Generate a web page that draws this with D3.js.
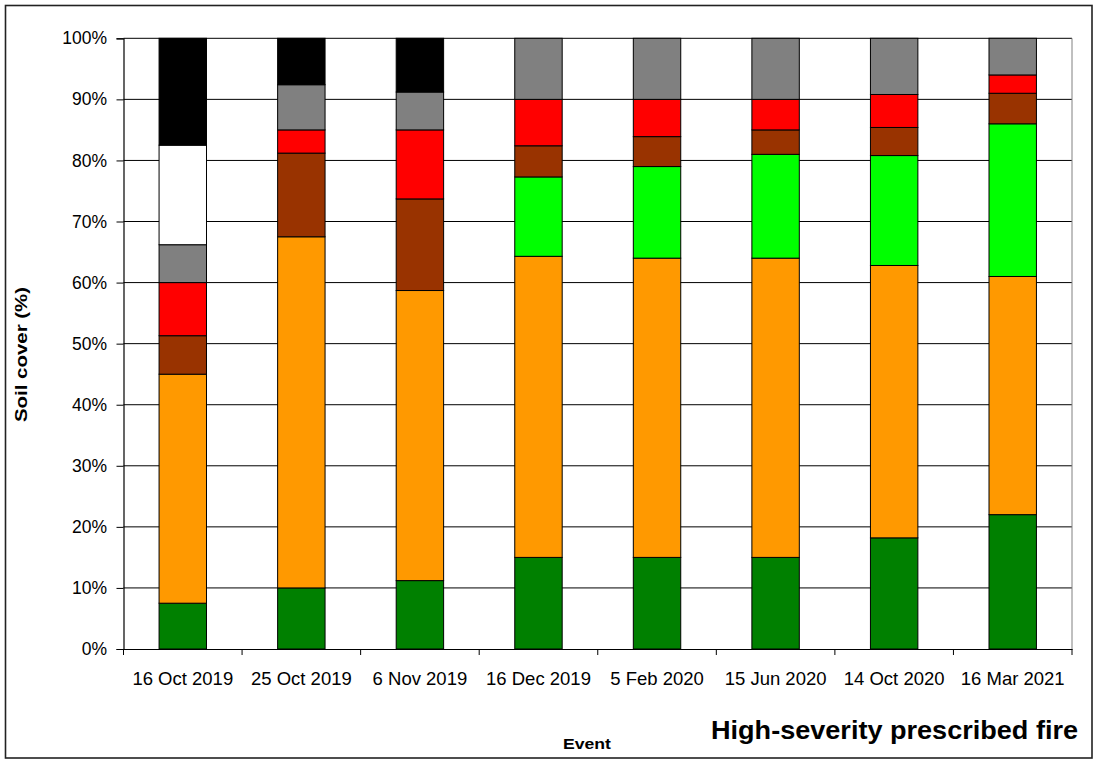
<!DOCTYPE html>
<html>
<head>
<meta charset="utf-8">
<script src="https://cdn.jsdelivr.net/npm/d3@7"></script>
<style>
  html, body { margin: 0; padding: 0; background: #fff; }
  svg { display: block; font-family: Arial, "Liberation Sans", sans-serif; }
</style>
</head>
<body>
<svg id="chart" width="1097" height="764"></svg>
<script>
// ---- Data ----
const events = ["16 Oct 2019", "25 Oct 2019", "6 Nov 2019", "16 Dec 2019", "5 Feb 2020", "15 Jun 2020", "14 Oct 2020", "16 Mar 2021"];
const seriesNames = ["s1", "s2", "s3", "s4", "s5", "s6", "s7", "s8"];
const seriesColors = ["#008000", "#FF9900", "#00FF00", "#993300", "#FF0000", "#808080", "#FFFFFF", "#000000"];
const s1 = [7.5, 10.0, 11.2, 15.0, 15.0, 15.0, 18.2, 22.0];
const s2 = [37.5, 57.5, 47.5, 49.3, 49.0, 49.0, 44.6, 39.0];
const s3 = [0, 0, 0, 13.0, 15.0, 17.0, 18.0, 25.0];
const s4 = [6.3, 13.7, 15.0, 5.1, 4.9, 4.0, 4.6, 5.0];
const s5 = [8.7, 3.8, 11.3, 7.6, 6.1, 5.0, 5.4, 3.0];
const s6 = [6.2, 7.4, 6.2, 10.0, 10.0, 10.0, 9.2, 6.0];
const s7 = [16.3, 0, 0, 0, 0, 0, 0, 0];
const s8 = [17.5, 7.6, 8.8, 0, 0, 0, 0, 0];
const yTicks = [0, 10, 20, 30, 40, 50, 60, 70, 80, 90, 100];
const yAxisTitle = "Soil cover (%)";
const xAxisTitle = "Event";
const chartTitle = "High-severity prescribed fire";

const seriesValues = [s1, s2, s3, s4, s5, s6, s7, s8];
const rows = events.map((e, i) => {
  const r = { event: e };
  seriesNames.forEach((n, k) => { r[n] = seriesValues[k][i]; });
  return r;
});

// ---- Layout ----
const svg = d3.select("#chart");
const pLeft = 123.5, pRight = 1072, pTop = 38.3, pBottom = 649;

// outer frame
svg.append("rect").attr("x", 5.5).attr("y", 5.5).attr("width", 1086.5).attr("height", 752.5)
  .attr("fill", "#fff").attr("stroke", "#222").attr("stroke-width", 1.6);

const x = d3.scaleBand().domain(events).range([pLeft, pRight]).paddingInner(0.6).paddingOuter(0.3);
const y = d3.scaleLinear().domain([0, 100]).range([pBottom, pTop]);

// gridlines
svg.append("g").selectAll("line").data(yTicks.filter(t => t > 0)).join("line")
  .attr("x1", pLeft).attr("x2", pRight)
  .attr("y1", d => y(d)).attr("y2", d => y(d))
  .attr("stroke", "#000").attr("stroke-width", 1);

// right border of plot area
svg.append("line").attr("x1", pRight).attr("x2", pRight).attr("y1", pTop).attr("y2", pBottom)
  .attr("stroke", "#808080").attr("stroke-width", 1);

// stacked bars
const stack = d3.stack().keys(seriesNames);
const layers = stack(rows);
svg.append("g").selectAll("g").data(layers).join("g")
  .attr("fill", (d, i) => seriesColors[i])
  .selectAll("rect").data(d => d.filter(p => p[1] - p[0] > 0)).join("rect")
  .attr("x", d => x(d.data.event))
  .attr("width", x.bandwidth())
  .attr("y", d => y(d[1]))
  .attr("height", d => y(d[0]) - y(d[1]))
  .attr("stroke", "#000").attr("stroke-width", 1);

// y axis
const yAxis = d3.axisLeft(y).tickValues(yTicks).tickFormat(d => d + "%").tickSize(7).tickPadding(9.5);
const gy = svg.append("g").attr("transform", `translate(${pLeft},0)`).call(yAxis);
gy.select(".domain").attr("stroke", "#000").attr("stroke-width", 1.2);
gy.selectAll(".tick line").attr("stroke", "#000");
gy.selectAll("text").attr("font-size", 17.5).attr("fill", "#000")
  .attr("font-family", "Arial, 'Liberation Sans', sans-serif");

// x axis (labels at category centers)
const xAxis = d3.axisBottom(x).tickSize(0).tickPadding(23);
const gx = svg.append("g").attr("transform", `translate(0,${pBottom})`).call(xAxis);
gx.select(".domain").attr("stroke", "#000").attr("stroke-width", 1.2);
gx.selectAll("text").attr("font-size", 18.5).attr("fill", "#000")
  .attr("font-family", "Arial, 'Liberation Sans', sans-serif");

// category boundary ticks
const step = x.step();
const bounds = d3.range(events.length + 1).map(i => x(events[0]) - x.paddingInner() * step / 2 + i * step);
svg.append("g").selectAll("line").data(bounds).join("line")
  .attr("x1", d => d).attr("x2", d => d)
  .attr("y1", pBottom).attr("y2", pBottom + 6)
  .attr("stroke", "#000").attr("stroke-width", 1);

// axis titles
svg.append("text")
  .attr("transform", "translate(27,354.5) rotate(-90)")
  .attr("text-anchor", "middle")
  .attr("font-weight", "bold").attr("font-size", 16)
  .attr("textLength", 135).attr("lengthAdjust", "spacingAndGlyphs")
  .text(yAxisTitle);

svg.append("text")
  .attr("x", 587).attr("y", 749)
  .attr("text-anchor", "middle")
  .attr("font-weight", "bold").attr("font-size", 15.5)
  .attr("textLength", 48).attr("lengthAdjust", "spacingAndGlyphs")
  .text(xAxisTitle);

svg.append("text")
  .attr("x", 1078).attr("y", 739)
  .attr("text-anchor", "end")
  .attr("font-weight", "bold").attr("font-size", 26)
  .attr("textLength", 367).attr("lengthAdjust", "spacingAndGlyphs")
  .text(chartTitle);
</script>
</body>
</html>
